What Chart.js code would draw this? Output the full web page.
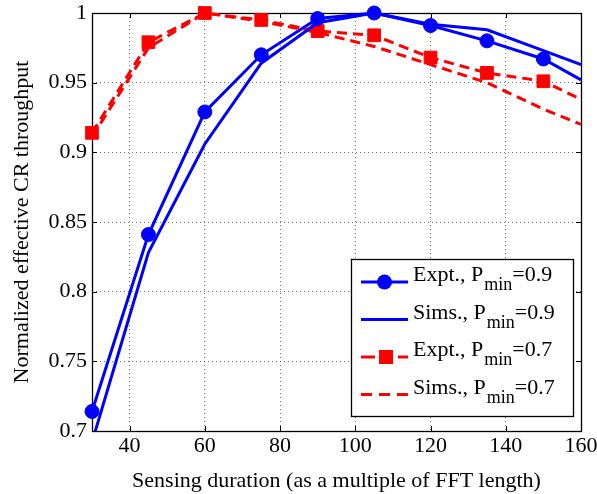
<!DOCTYPE html>
<html>
<head>
<meta charset="utf-8">
<script src="https://cdn.jsdelivr.net/npm/chart.js@4.4.0/dist/chart.umd.min.js"></script>
<style>
  html, body { margin: 0; padding: 0; background: #fff; }
  #wrap { width: 597px; height: 494px; }
</style>
</head>
<body>
<div id="wrap"><canvas id="throughputChart" width="597" height="494"></canvas></div>
<script>
// sensing durations (multiples of FFT length) and normalized throughput
const durations = [30, 45, 60, 75, 90, 105, 120, 135, 150, 160];
const exptHigh = [0.714, 0.841, 0.929, 0.970, 0.996, 1.000, 0.991, 0.980, 0.967, 0.952];
const simsHigh = [0.692, 0.828, 0.906, 0.964, 0.993, 1.000, 0.992, 0.988, 0.973, 0.963];
const exptLow = [0.914, 0.979, 1.000, 0.995, 0.987, 0.984, 0.968, 0.957, 0.951, 0.938];
const simsLow = [0.911, 0.975, 1.000, 0.994, 0.986, 0.976, 0.963, 0.950, 0.931, 0.920];
const lastMeasured = 150; // markers only up to here, the line runs on to the frame
const seriesLabels = ['Expt., P_min=0.9', 'Sims., P_min=0.9', 'Expt., P_min=0.7', 'Sims., P_min=0.7'];
const xTicks = [40, 60, 80, 100, 120, 140, 160];
const yTicks = [0.7, 0.75, 0.8, 0.85, 0.9, 0.95, 1];

const FONT = 'Liberation Serif';
const BLUE = '#0000ff';
const RED = '#ff0000';

const toPoints = (ys) => durations.map((x, i) => ({ x: x, y: ys[i] }));
const markerRadius = (r) => (ctx) => (ctx.raw && ctx.raw.x > lastMeasured ? 0 : r);

// box, inward ticks on all four sides
const framePlugin = {
    id: 'frame',
    beforeDatasetsDraw(chart) {
        const { ctx, chartArea: a, scales } = chart;
        ctx.save();
        ctx.strokeStyle = '#000';
        ctx.lineWidth = 1;
        ctx.beginPath();
        xTicks.forEach(v => {
            const px = Math.round(scales.x.getPixelForValue(v)) + 0.5;
            ctx.moveTo(px, a.bottom); ctx.lineTo(px, a.bottom - 5);
            ctx.moveTo(px, a.top); ctx.lineTo(px, a.top + 5);
        });
        yTicks.forEach(v => {
            const py = Math.round(scales.y.getPixelForValue(v)) + 0.5;
            ctx.moveTo(a.left, py); ctx.lineTo(a.left + 5, py);
            ctx.moveTo(a.right, py); ctx.lineTo(a.right - 5, py);
        });
        ctx.stroke();
        ctx.lineWidth = 1.3;
        ctx.strokeRect(Math.round(a.left) + 0.5, Math.round(a.top) + 0.5,
            Math.round(a.right - a.left), Math.round(a.bottom - a.top));
        ctx.restore();
    }
};

const strokeSegment = (ctx, x0, x1, y) => {
    ctx.beginPath();
    ctx.moveTo(x0, y);
    ctx.lineTo(x1, y);
    ctx.stroke();
};

// legend box in the lower right, with subscripted labels
const legendPlugin = {
    id: 'subLegend',
    afterDraw(chart) {
        const { ctx } = chart;
        const box = { x: 351, y: 259, w: 222, h: 157 };
        ctx.save();
        ctx.fillStyle = '#fff';
        ctx.fillRect(box.x, box.y, box.w, box.h);
        ctx.strokeStyle = '#000';
        ctx.lineWidth = 1.3;
        ctx.strokeRect(box.x + 0.5, box.y + 0.5, box.w, box.h);

        chart.data.datasets.forEach((ds, i) => {
            const base = 281 + i * 37.5;
            const ly = base + 1;
            ctx.strokeStyle = ds.borderColor;
            ctx.fillStyle = ds.borderColor;
            ctx.lineWidth = ds.borderWidth;
            if (ds.borderDash && ds.legendMarker) {
                strokeSegment(ctx, 361, 375, ly);
                strokeSegment(ctx, 398, 408, ly);
            } else if (ds.borderDash) {
                strokeSegment(ctx, 361, 372, ly);
                strokeSegment(ctx, 379, 390, ly);
                strokeSegment(ctx, 397, 408, ly);
            } else {
                strokeSegment(ctx, 361, 408, ly);
            }
            if (ds.legendMarker) {
                if (ds.pointStyle === 'rect') {
                    ctx.fillRect(379, ly - 7, 14, 14);
                } else {
                    ctx.beginPath();
                    ctx.arc(384.5, ly, 7.5, 0, Math.PI * 2);
                    ctx.fill();
                }
            }
            const m = ds.label.match(/^(.*)_(\w+)(.*)$/);
            let tx = 413;
            ctx.fillStyle = '#000';
            ctx.textBaseline = 'alphabetic';
            ctx.textAlign = 'left';
            ctx.font = '22px "' + FONT + '"';
            ctx.fillText(m[1], tx, base);
            tx += ctx.measureText(m[1]).width + 1;
            ctx.font = '18px "' + FONT + '"';
            ctx.fillText(m[2], tx, base + 9);
            tx += ctx.measureText(m[2]).width;
            ctx.font = '22px "' + FONT + '"';
            ctx.fillText(m[3], tx, base);
        });
        ctx.restore();
    }
};

Chart.defaults.font.family = FONT;
Chart.defaults.color = '#000';

new Chart(document.getElementById('throughputChart'), {
    type: 'line',
    data: {
        datasets: [
            {
                label: seriesLabels[0], data: toPoints(exptHigh),
                borderColor: BLUE, backgroundColor: BLUE, borderWidth: 3,
                pointStyle: 'circle', pointRadius: markerRadius(7), pointBorderWidth: 1,
                pointBackgroundColor: BLUE, pointBorderColor: BLUE,
                legendMarker: true, clip: false
            },
            {
                label: seriesLabels[1], data: toPoints(simsHigh),
                borderColor: BLUE, borderWidth: 3, pointRadius: 0, clip: 0
            },
            {
                label: seriesLabels[2], data: toPoints(exptLow),
                borderColor: RED, backgroundColor: RED, borderWidth: 3, borderDash: [10, 6],
                pointStyle: 'rect', pointRadius: markerRadius(9), pointBorderWidth: 1,
                pointBackgroundColor: RED, pointBorderColor: RED,
                legendMarker: true, clip: false
            },
            {
                label: seriesLabels[3], data: toPoints(simsLow),
                borderColor: RED, borderWidth: 3, borderDash: [10, 6], pointRadius: 0, clip: 0
            }
        ]
    },
    options: {
        responsive: false,
        animation: false,
        events: [],
        layout: { padding: { top: 13, right: 16, left: 0, bottom: 0 } },
        plugins: {
            legend: { display: false },
            tooltip: { enabled: false }
        },
        scales: {
            x: {
                type: 'linear', min: 30, max: 160,
                afterBuildTicks: s => { s.ticks = xTicks.map(v => ({ value: v })); },
                afterFit: s => { s.height = 63; s.paddingLeft = 0; s.paddingRight = 0; },
                ticks: { font: { size: 22 }, padding: 2, maxRotation: 0, callback: v => String(v) },
                grid: { color: 'rgba(0,0,0,0.55)', lineWidth: 1, drawTicks: false },
                border: { display: false, dash: [1, 3] },
                title: {
                    display: true, text: 'Sensing duration (as a multiple of FFT length)',
                    font: { size: 22 }, padding: { top: 1, bottom: 0 }
                }
            },
            y: {
                type: 'linear', min: 0.7, max: 1,
                afterBuildTicks: s => { s.ticks = yTicks.map(v => ({ value: v })); },
                afterFit: s => { s.width = 92; s.paddingTop = 0; s.paddingBottom = 0; },
                ticks: { font: { size: 22 }, padding: 5, callback: v => String(v) },
                grid: { color: 'rgba(0,0,0,0.55)', lineWidth: 1, drawTicks: false },
                border: { display: false, dash: [1, 3] },
                title: {
                    display: true, text: 'Normalized effective CR throughput',
                    font: { size: 22 }, padding: { top: 9, bottom: 0 }
                }
            }
        }
    },
    plugins: [framePlugin, legendPlugin]
});
</script>
</body>
</html>
